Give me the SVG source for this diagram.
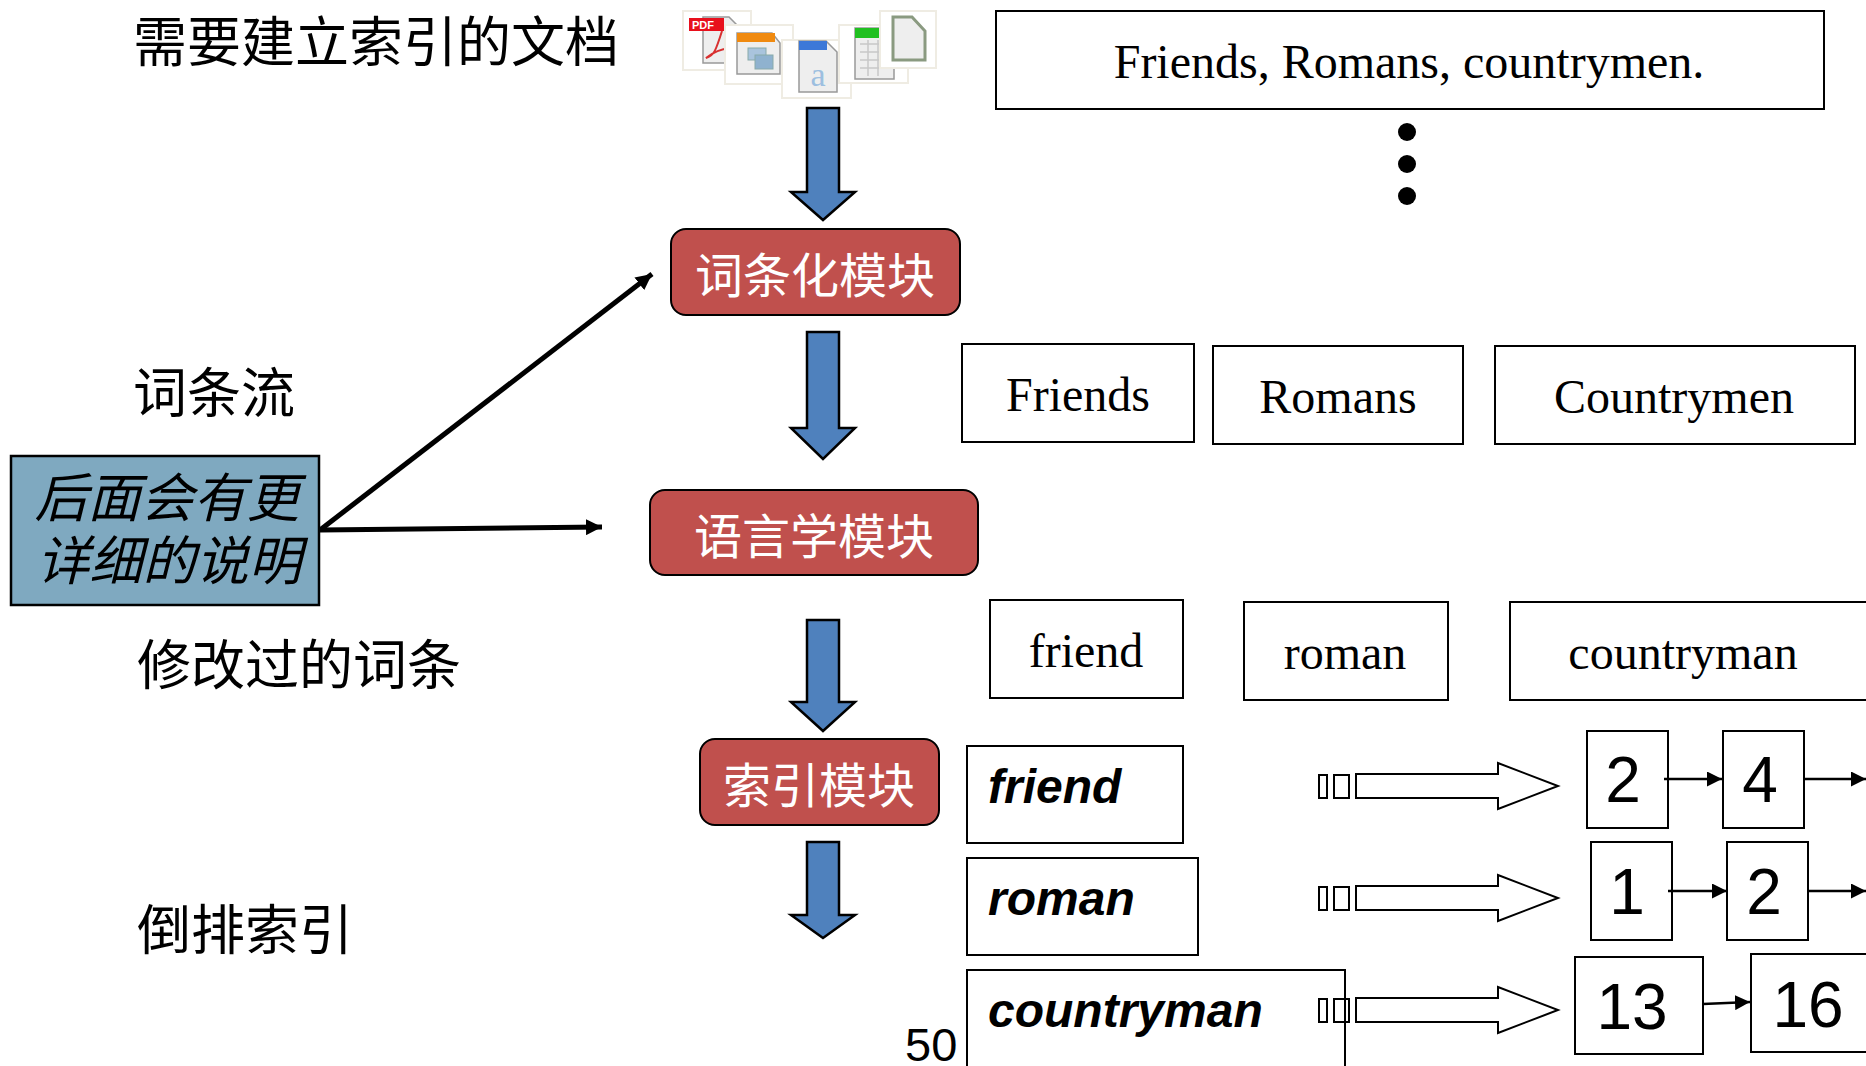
<svg xmlns="http://www.w3.org/2000/svg" width="1866" height="1066" viewBox="0 0 1866 1066">
<style>
.cn{font-family:"Noto Sans CJK SC","Noto Sans",sans-serif;font-size:54px;fill:#000}
.mod{font-family:"Noto Sans CJK SC","Noto Sans",sans-serif;font-size:48px;fill:#fff;text-anchor:middle}
.note{font-family:"Noto Sans CJK SC","Noto Sans",sans-serif;font-size:53px;font-style:italic;fill:#000;text-anchor:middle}
.ser{font-family:"Liberation Serif","Times New Roman",serif;font-size:48px;fill:#000;text-anchor:middle}
.bi{font-family:"Liberation Sans",Arial,sans-serif;font-size:48px;font-weight:bold;font-style:italic;fill:#000}
.num{font-family:"Liberation Sans",Arial,sans-serif;font-size:64px;fill:#000;text-anchor:middle}
.box{fill:#fff;stroke:#000;stroke-width:2}
.red{fill:#c0504d;stroke:#000;stroke-width:2}
.blue{fill:#4f81bd;stroke:#000;stroke-width:2.5}
.hollow{fill:#fff;stroke:#000;stroke-width:2}
.tail{fill:none;stroke:#000;stroke-width:2}
.ln{stroke:#000;stroke-width:2.5;fill:none}
.frame{fill:#fff;stroke:#efece3;stroke-width:2}
.page{fill:#eee;stroke:#999;stroke-width:1.5}
</style>
<defs>
<marker id="ah" viewBox="0 0 10 10" refX="10" refY="5" markerWidth="15" markerHeight="15" markerUnits="userSpaceOnUse" orient="auto"><path d="M0 0L10 5L0 10z" fill="#000"/></marker>
<marker id="ah2" viewBox="0 0 10 10" refX="10" refY="5" markerWidth="16" markerHeight="16" markerUnits="userSpaceOnUse" orient="auto"><path d="M0 0L10 5L0 10z" fill="#000"/></marker>
<path id="hollowArrow" d="M0 -12H142V-23L202 0L142 23V12H0Z" class="hollow"/>
</defs>

<g id="labels">
<text class="cn" x="133" y="62">需要建立索引的文档</text>
<text class="cn" x="133" y="413">词条流</text>
<text class="cn" x="137" y="685">修改过的词条</text>
<text class="cn" x="137" y="950">倒排索引</text>
<text x="905" y="1061" font-family="'Liberation Sans',Arial,sans-serif" font-size="47px" fill="#000">50</text>
</g>

<g id="doc-icons">
<rect class="frame" x="683" y="11" width="68" height="59"/>
<path class="page" d="M703 17H729L739 27V63H703Z"/><rect x="689" y="18" width="35" height="13" fill="#e8101c"/>
<text x="692" y="29" font-family="'Liberation Sans',sans-serif" font-size="11px" font-weight="bold" fill="#fff">PDF</text>
<path d="M722 31C716 50 714 56 706 58C716 50 726 48 733 49" fill="none" stroke="#d83030" stroke-width="2"/>
<rect class="frame" x="725" y="25" width="68" height="59"/>
<path class="page" d="M737 33H772L780 43V74H737Z"/><rect x="737" y="33" width="38" height="9" fill="#f08a10"/>
<rect x="748" y="48" width="18" height="12" fill="#a9c4dd" stroke="#8aa"/><rect x="755" y="55" width="18" height="14" fill="#8fb2cf" stroke="#8aa"/>
<rect class="frame" x="782" y="40" width="69" height="58"/>
<path class="page" d="M799 41H826L837 52V92H799Z"/><rect x="799" y="41" width="28" height="9" fill="#3c78d8"/>
<text x="818" y="86" font-family="'Liberation Serif',serif" font-size="34px" fill="#9dbfe0" text-anchor="middle">a</text>
<rect class="frame" x="839" y="25" width="69" height="58"/>
<path class="page" d="M855 28H890L894 38V79H855Z"/><rect x="855" y="28" width="36" height="10" fill="#20c020"/>
<path d="M860 44H888M860 52H888M860 60H888M860 68H888M868 40V76M878 40V76" stroke="#c8c8c8" stroke-width="1.5" fill="none"/>
<rect class="frame" x="880" y="11" width="56" height="57"/>
<path d="M893 17H912L925 31V60H893Z" fill="#eee" stroke="#8a9a80" stroke-width="3"/>
</g>

<g id="text-boxes">
<g id="sentence"><rect class="box" x="996" y="11" width="828" height="98"/><text class="ser" x="1409" y="78">Friends, Romans, countrymen.</text></g>
<g id="dots"><circle cx="1407" cy="132" r="9"/><circle cx="1407" cy="164" r="9"/><circle cx="1407" cy="196" r="9"/></g>
<g id="t-friends"><rect class="box" x="962" y="344" width="232" height="98"/><text class="ser" x="1078" y="411">Friends</text></g>
<g id="t-romans"><rect class="box" x="1213" y="346" width="250" height="98"/><text class="ser" x="1338" y="413">Romans</text></g>
<g id="t-countrymen"><rect class="box" x="1495" y="346" width="360" height="98"/><text class="ser" x="1674" y="413">Countrymen</text></g>
<g id="n-friend"><rect class="box" x="990" y="600" width="193" height="98"/><text class="ser" x="1086" y="667">friend</text></g>
<g id="n-roman"><rect class="box" x="1244" y="602" width="204" height="98"/><text class="ser" x="1345" y="669">roman</text></g>
<g id="n-countryman"><rect class="box" x="1510" y="602" width="358" height="98"/><text class="ser" x="1683" y="669">countryman</text></g>
</g>

<g id="note"><rect x="11" y="456" width="308" height="149" fill="#7fa9c0" stroke="#000" stroke-width="2.5"/>
<text class="note" x="167" y="517">后面会有更</text><text class="note" x="169" y="580">详细的说明</text></g>

<g id="module-tokenizer"><rect class="red" x="671" y="229" width="289" height="86" rx="15"/><text class="mod" x="815" y="293">词条化模块</text></g>
<g id="module-linguistic"><rect class="red" x="650" y="490" width="328" height="85" rx="15"/><text class="mod" x="814" y="554">语言学模块</text></g>
<g id="module-index"><rect class="red" x="700" y="739" width="239" height="86" rx="15"/><text class="mod" x="819" y="803">索引模块</text></g>

<g id="dict">
<g id="d-friend"><rect class="box" x="967" y="746" width="216" height="97"/><text class="bi" x="988" y="803">friend</text></g>
<g id="d-roman"><rect class="box" x="967" y="858" width="231" height="97"/><text class="bi" x="988" y="915">roman</text></g>
<g id="d-countryman"><path class="box" d="M967 1068V970H1345V1068"/><text class="bi" x="988" y="1027">countryman</text></g>
</g>

<g id="postings">
<g id="p1a"><rect class="box" x="1587" y="731" width="81" height="97"/><text class="num" x="1623" y="802">2</text></g>
<g id="p1b"><rect class="box" x="1723" y="731" width="81" height="97"/><text class="num" x="1760" y="802">4</text></g>
<g id="p2a"><rect class="box" x="1591" y="842" width="81" height="98"/><text class="num" x="1627" y="914">1</text></g>
<g id="p2b"><rect class="box" x="1727" y="842" width="81" height="98"/><text class="num" x="1764" y="914">2</text></g>
<g id="p3a"><rect class="box" x="1575" y="957" width="128" height="97"/><text class="num" x="1632" y="1029">13</text></g>
<g id="p3b"><rect class="box" x="1751" y="954" width="120" height="98"/><text class="num" x="1808" y="1027">16</text></g>
</g>

<g id="connectors">
<path class="blue" d="M807 108H839V192H855L823 220L791 192H807Z"/>
<path class="blue" d="M807 332H839V428H855L823 459L791 428H807Z"/>
<path class="blue" d="M807 620H839V702H855L823 731L791 702H807Z"/>
<path class="blue" d="M807 842H839V915H855L823 938L791 915H807Z"/>
<path d="M320 530L652 274" stroke="#000" stroke-width="5" fill="none" marker-end="url(#ah2)"/>
<path d="M320 530L602 527" stroke="#000" stroke-width="5" fill="none" marker-end="url(#ah2)"/>
<g id="tails">
<rect class="tail" x="1319" y="775" width="8" height="23"/><rect class="tail" x="1334" y="775" width="15" height="23"/><use href="#hollowArrow" x="1356" y="786"/>
<rect class="tail" x="1319" y="887" width="8" height="23"/><rect class="tail" x="1334" y="887" width="15" height="23"/><use href="#hollowArrow" x="1356" y="898"/>
<rect class="tail" x="1319" y="999" width="8" height="23"/><rect class="tail" x="1334" y="999" width="15" height="23"/><use href="#hollowArrow" x="1356" y="1010"/>
</g>
<path class="ln" d="M1664 779H1722" marker-end="url(#ah)"/>
<path class="ln" d="M1804 779H1866" marker-end="url(#ah)"/>
<path class="ln" d="M1668 891H1727" marker-end="url(#ah)"/>
<path class="ln" d="M1808 891H1866" marker-end="url(#ah)"/>
<path class="ln" d="M1703 1004L1750 1002" marker-end="url(#ah)"/>
</g>
</svg>
